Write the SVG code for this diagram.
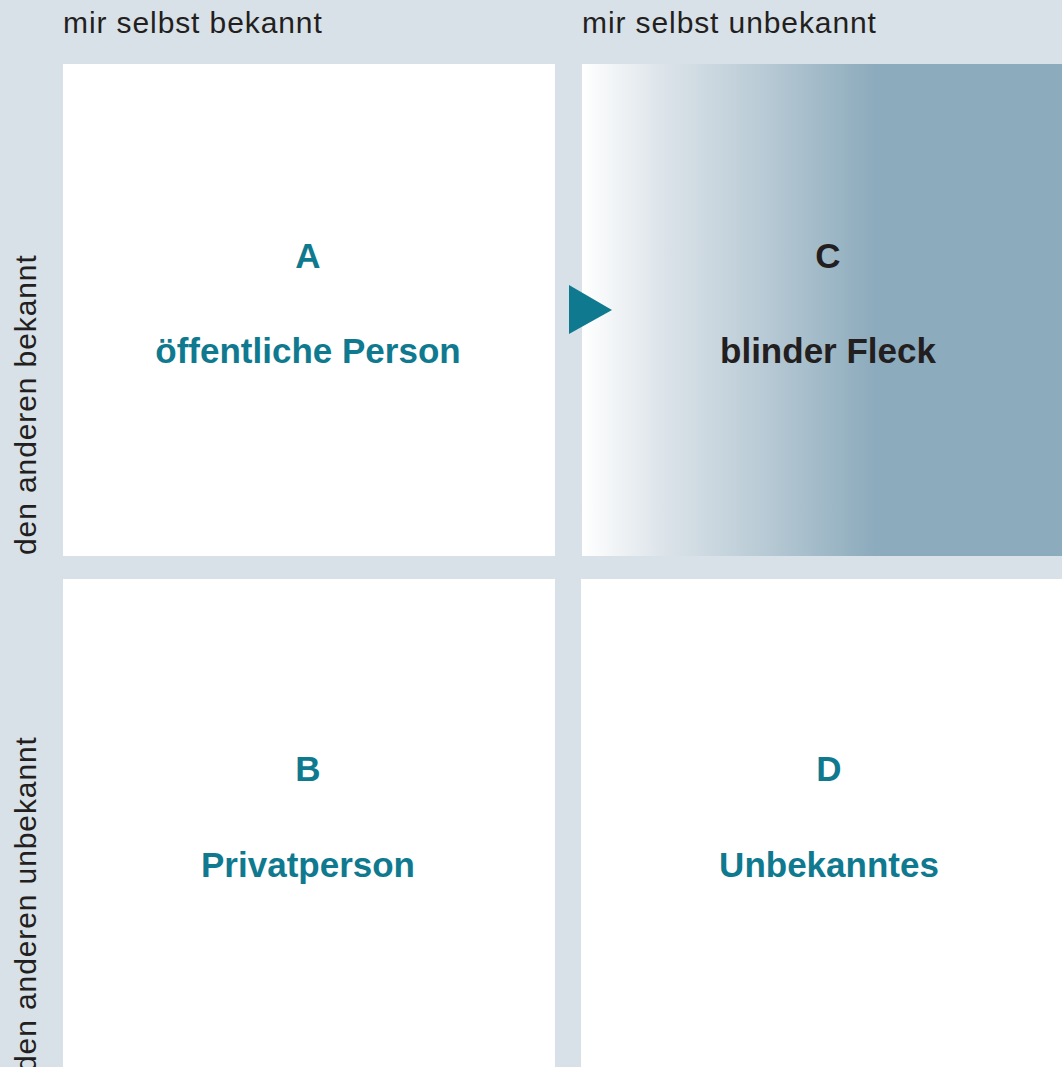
<svg xmlns="http://www.w3.org/2000/svg" width="1062" height="1067" viewBox="0 0 1062 1067">
  <style>
    .axis { font-family: "Liberation Sans", Arial, sans-serif; font-size: 30px; letter-spacing: 0.9px; fill: #231f20; }
    .key { font-family: "Liberation Sans", Arial, sans-serif; font-size: 35px; font-weight: bold; text-anchor: middle; fill: #0f7a8f; }
    .dark { fill: #231f20; }
    .cell { fill: #ffffff; }
  </style>
  <defs>
    <linearGradient id="blindGrad" x1="582" y1="0" x2="1062" y2="0" gradientUnits="userSpaceOnUse">
      <stop offset="0" stop-color="#ffffff"/>
      <stop offset="0.18" stop-color="#dae2e8"/>
      <stop offset="0.38" stop-color="#b8cad5"/>
      <stop offset="0.61" stop-color="#8cabbc"/>
      <stop offset="1" stop-color="#8cabbc"/>
    </linearGradient>
  </defs>

  <!-- page background -->
  <rect x="0" y="0" width="1062" height="1067" fill="#d9e1e8"/>

  <!-- axis captions -->
  <g id="axis-labels">
    <text class="axis" x="63" y="33">mir selbst bekannt</text>
    <text class="axis" x="582" y="33">mir selbst unbekannt</text>
    <text class="axis" transform="translate(36,555) rotate(-90)">den anderen bekannt</text>
    <text class="axis" transform="translate(36,1072) rotate(-90)">den anderen unbekannt</text>
  </g>

  <!-- quadrant A -->
  <g id="node-a">
    <rect class="cell" x="63" y="64" width="492" height="492"/>
    <text class="key" x="308" y="268">A</text>
    <text class="key" x="308" y="363">öffentliche Person</text>
  </g>

  <!-- quadrant C -->
  <g id="node-c">
    <rect x="582" y="64" width="480" height="492" fill="url(#blindGrad)"/>
    <text class="key dark" x="828" y="268">C</text>
    <text class="key dark" x="828" y="363">blinder Fleck</text>
  </g>

  <!-- quadrant B -->
  <g id="node-b">
    <rect class="cell" x="63" y="579" width="492" height="488"/>
    <text class="key" x="308" y="781">B</text>
    <text class="key" x="308" y="877">Privatperson</text>
  </g>

  <!-- quadrant D -->
  <g id="node-d">
    <rect class="cell" x="581" y="579" width="481" height="488"/>
    <text class="key" x="829" y="781">D</text>
    <text class="key" x="829" y="877">Unbekanntes</text>
  </g>

  <!-- pointer into the blind spot -->
  <g id="connectors">
    <polygon points="569,285 612,310 569,334" fill="#0f7a8f"/>
  </g>
</svg>
